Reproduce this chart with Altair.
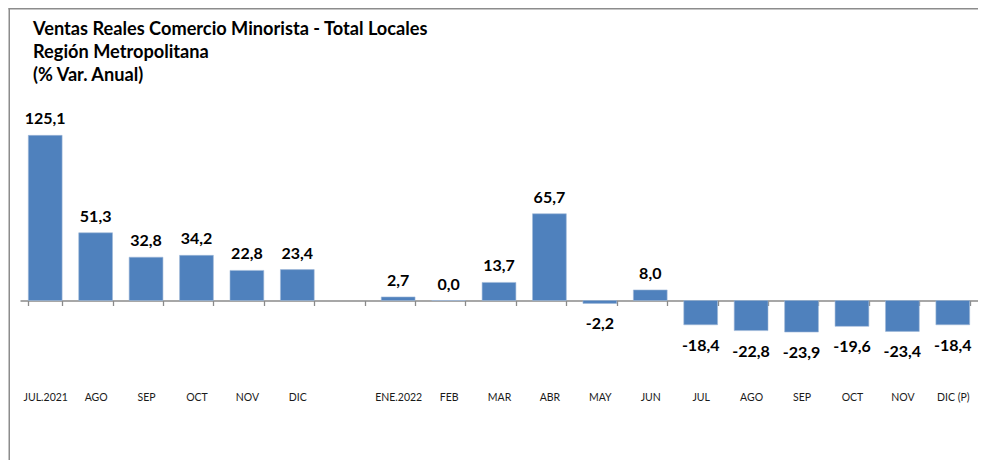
import json
import altair as alt
import pandas as pd

labels = ["JUL.2021", "AGO", "SEP", "OCT", "NOV", "DIC", "",
          "ENE.2022", "FEB", "MAR", "ABR", "MAY", "JUN",
          "JUL", "AGO", "SEP", "OCT", "NOV", "DIC (P)"]
values = [125.1, 51.3, 32.8, 34.2, 22.8, 23.4, None,
          2.7, 0.0, 13.7, 65.7, -2.2, 8.0,
          -18.4, -22.8, -23.9, -19.6, -23.4, -18.4]
title_lines = ["Ventas Reales Comercio Minorista - Total Locales",
               "Región Metropolitana",
               "(% Var. Anual)"]

df = pd.DataFrame({
    "idx": list(range(len(labels))),
    "cat": labels,
    "value": values,
})
df["txt"] = [("" if v is None or pd.isna(v) else f"{v:.1f}".replace(".", ",")) for v in values]

FONT = "Lato"
W, H = 958, 217.8
PAD_L, PAD_T = 12, 120.9
PAD_R = 0
PAD_B = 452 - PAD_T - H
Y_DOM = [-35, 130]
zero_from_bottom = H * (0 - Y_DOM[0]) / (Y_DOM[1] - Y_DOM[0])

label_expr = json.dumps(labels) + "[datum.value]"

x_enc = alt.X(
    "idx:O",
    sort=None,
    scale=alt.Scale(domain=list(range(len(labels))), paddingInner=0.33, paddingOuter=0.165),
    axis=alt.Axis(
        title=None,
        labelExpr=label_expr,
        labelAngle=0,
        labelFont=FONT,
        labelFontSize=10.5,
        labelColor="#1a1a1a",
        labelBaseline="top",
        labelPadding=87,
        tickBand="extent",
        tickSize=5,
        tickColor="#8a8a8a",
        domainColor="#8a8a8a",
        domainWidth=1.3,
        tickWidth=1.3,
        offset=-zero_from_bottom,
        grid=False,
    ),
)
y_scale = alt.Scale(domain=Y_DOM, nice=False, zero=True)

base = alt.Chart(df)

bars = base.transform_filter("isValid(datum.value)").mark_bar(
    color="#4F81BD", stroke="#9fb8d9", strokeWidth=0.6
).encode(
    x=x_enc,
    y=alt.Y("value:Q", scale=y_scale, axis=None),
    y2=alt.datum(0),
)

pos_txt = base.transform_filter("isValid(datum.value) && datum.value >= 0").mark_text(
    font=FONT, fontSize=16, fontWeight="bold", color="black", baseline="middle", dy=-16
).encode(
    x=alt.X("idx:O", sort=None),
    y=alt.Y("value:Q", scale=y_scale, axis=None),
    text="txt:N",
)

neg_txt = base.transform_filter("isValid(datum.value) && datum.value < 0").mark_text(
    font=FONT, fontSize=16, fontWeight="bold", color="black", baseline="middle", dy=21
).encode(
    x=alt.X("idx:O", sort=None),
    y=alt.Y("value:Q", scale=y_scale, axis=None),
    text="txt:N",
)

plot_layers = alt.layer(bars, pos_txt, neg_txt)

tdf = pd.DataFrame({"line": title_lines, "row": list(range(len(title_lines)))})
title_txt = alt.Chart(tdf).mark_text(
    font=FONT, fontSize=18.2, fontWeight="bold", color="black", align="left", baseline="middle"
).encode(
    x=alt.value(13),
    y=alt.Y("row:Q", scale=alt.Scale(domain=[0, 2], range=[-98.9, -52.9]), axis=None),
    text="line:N",
)

frame_left = alt.Chart(pd.DataFrame({"k": [0]})).mark_rect(color="#8c8c8c").encode(
    x=alt.value(-11.5), x2=alt.value(-10), y=alt.value(-PAD_T), y2=alt.value(H + PAD_B)
)
frame_top = alt.Chart(pd.DataFrame({"k": [0]})).mark_rect(color="#8c8c8c").encode(
    x=alt.value(-11.5), x2=alt.value(W + PAD_R), y=alt.value(-PAD_T), y2=alt.value(-PAD_T + 1.5)
)

chart = alt.layer(plot_layers, title_txt, frame_left, frame_top).resolve_scale(
    y="independent"
).resolve_axis(y="independent").properties(
    width=W,
    height=H,
    autosize=alt.AutoSizeParams(type="none"),
    padding={"left": PAD_L, "top": PAD_T, "right": PAD_R, "bottom": PAD_B},
).configure_view(stroke=None)

chart.save("out.html", embed_options={"renderer": "svg", "actions": False})
